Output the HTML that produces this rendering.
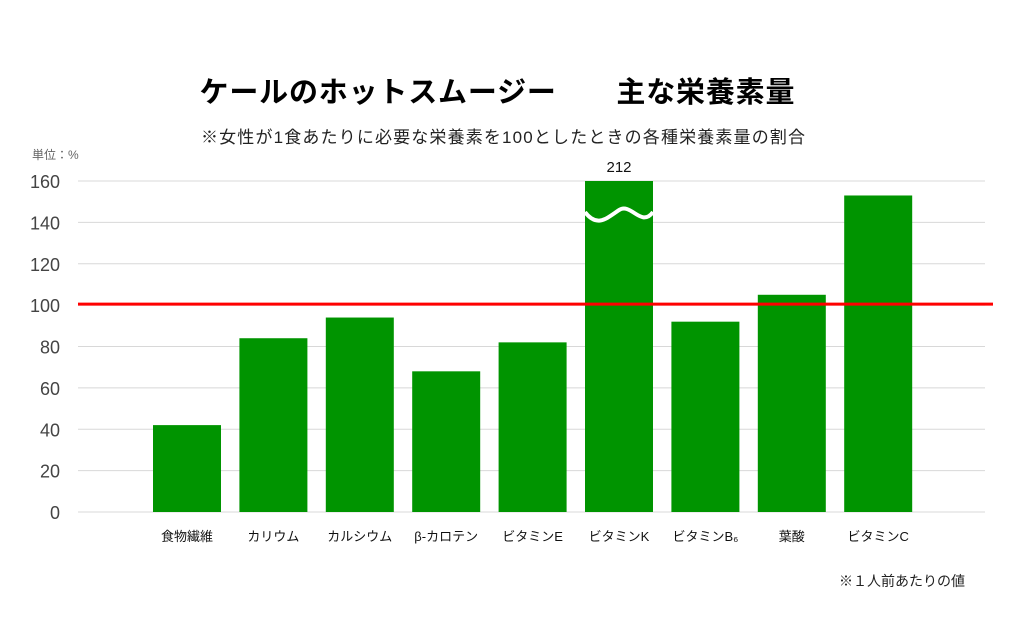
<!DOCTYPE html>
<html><head><meta charset="utf-8"><style>
body{margin:0;background:#fff;width:1024px;height:623px;overflow:hidden;font-family:"Liberation Sans","Noto Sans CJK JP",sans-serif}
</style></head><body>
<svg id="chart" width="1024" height="623" xmlns="http://www.w3.org/2000/svg" font-family="Liberation Sans, Noto Sans CJK JP, sans-serif">
<text x="497" y="102" text-anchor="middle" font-size="29" font-weight="bold" fill="#000" textLength="595">ケールのホットスムージー　　主な栄養素量</text>
<text x="503" y="143" text-anchor="middle" font-size="17" fill="#222" textLength="604">※女性が1食あたりに必要な栄養素を100としたときの各種栄養素量の割合</text>
<text x="32" y="159" font-size="12" fill="#666">単位：%</text>
<text x="965" y="586" text-anchor="end" font-size="14" fill="#222">※１人前あたりの値</text>
<g id="grid"></g><g id="bars"></g><g id="labels"></g>
</svg>
<script>
const categories=["食物繊維","カリウム","カルシウム","β-カロテン","ビタミンE","ビタミンK","ビタミンB₆","葉酸","ビタミンC"];
const values=[42,84,94,68,82,212,92,105,153];
const ticks=[0,20,40,60,80,100,120,140,160];
const refValue=100;
const yMax=160;
const NS="http://www.w3.org/2000/svg";
const y0=512,yTop=181;
const y=v=>y0-(Math.min(v,yMax)/yMax)*(y0-yTop);
const x=i=>187+i*86.4;
const bw=68;
function mk(tag,attrs,parent,text){const e=document.createElementNS(NS,tag);for(const k in attrs)e.setAttribute(k,attrs[k]);if(text!==undefined)e.textContent=text;document.getElementById(parent).appendChild(e);return e;}
ticks.forEach(t=>{
 const l=mk("line",{x1:78,x2:985,y1:y(t),y2:y(t),stroke:"#d8d8d8","stroke-width":1},"grid");
 
 
 const tx=mk("text",{x:60,y:y(t)+7,"text-anchor":"end","font-size":18,fill:"#444"},"grid",String(t));
 
 
});
values.forEach((v,i)=>{
 const r=mk("rect",{x:x(i)-bw/2,y:y(v),width:bw,height:y0-y(v),fill:"#009400"},"bars");
 
 
 const lb=mk("text",{x:x(i),y:541,"text-anchor":"middle","font-size":13,fill:"#111"},"labels",categories[i]);
 
 
 if(v>yMax){
  const cx=x(i),yy=y(yMax-16);
  const p=mk("path",{d:`M${cx-34},${yy-2} C${cx-22},${yy+14} ${cx-12},${yy+4} ${cx},${yy-4} C${cx+12},${yy-12} ${cx+22},${yy+14} ${cx+34},${yy-2}`,stroke:"#fff","stroke-width":4,fill:"none"},"bars");
  
  
  const vl=mk("text",{x:cx,y:y(yMax)-9,"text-anchor":"middle","font-size":15,fill:"#111"},"labels",String(v));
  
  
 }
});
const rl=mk("line",{x1:78,x2:993,y1:y(refValue)-1,y2:y(refValue)-1,stroke:"#ff0000","stroke-width":3},"labels");


</script>
</body></html>
